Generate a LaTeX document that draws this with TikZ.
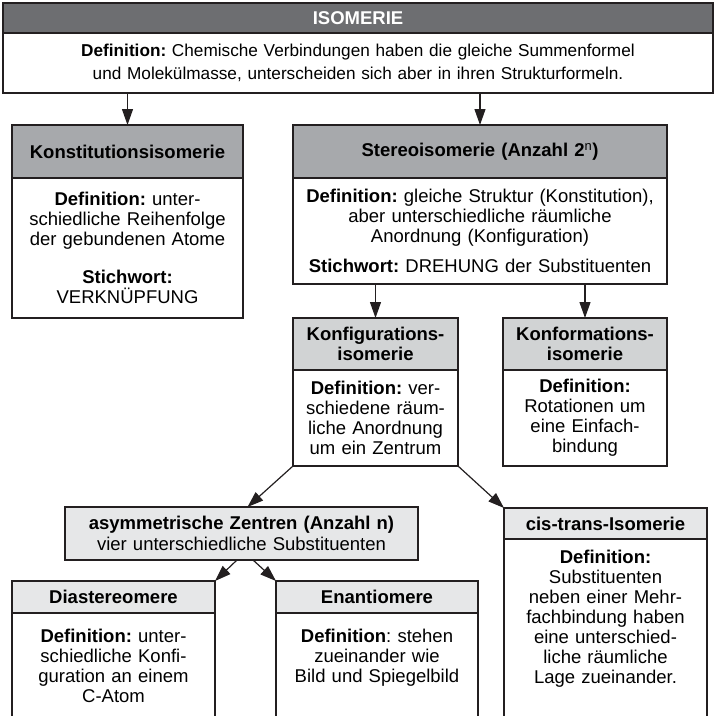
\documentclass[tikz,border=0pt]{standalone}
\usepackage{fontspec}
\setmainfont{Liberation Sans}
\usetikzlibrary{arrows.meta}
\frenchspacing
\definecolor{ink}{HTML}{231F20}
\definecolor{bardark}{HTML}{6D6E71}
\definecolor{barmid}{HTML}{A7A9AC}
\definecolor{barlight}{HTML}{D1D3D4}
\definecolor{barpale}{HTML}{E6E7E8}
\tikzset{
	box/.style={draw=ink, line width=1.2pt, inner sep=0pt, outer sep=0pt, align=center, font=\fontsize{18.5}{20}\selectfont},
	bar/.style={box, anchor=north west, font=\fontsize{18.5}{20}\selectfont\bfseries},
	body/.style={box, anchor=north, fill=white},
	arr/.style={draw=ink, line width=1.2pt, -{Triangle[length=16pt,width=11pt]}},
}
\begin{document}
\begin{tikzpicture}[x=1pt,y=-1pt]
			\useasboundingbox (0,0) rectangle (716,716);
			\clip (0,0) rectangle (716,716);
			\node	(isotitle) at (3,3) [bar, fill=bardark, text=white, text width=710pt, minimum height=30pt] {ISOMERIE};
			\node	(isodef) at (isotitle.south) [body, text width=710pt, minimum height=60pt, font=\fontsize{17.2}{22.5}\selectfont] {\textbf{Definition:} Chemische Verbindungen haben die gleiche Summenformel\\und Molekülmasse, unterscheiden sich aber in ihren Strukturformeln.};
			\node	(kontitle) at (12,125) [bar, fill=barmid, text width=231pt, minimum height=53pt] {Konstitutionsisomerie};
			\node	(konbody) at (kontitle.south) [body, text width=231pt, minimum height=140pt] {\textbf{Definition:} unter-\\schiedliche Reihenfolge\\der gebundenen Atome\\[18pt]\textbf{Stichwort:}\\VERKNÜPFUNG};
			\node	(stetitle) at (293,125) [bar, fill=barmid, text width=374pt, minimum height=53pt] {Stereoisomerie (Anzahl 2\textsuperscript{\mdseries n})};
			\node	(stebody) at (stetitle.south) [body, text width=374pt, minimum height=106pt] {\textbf{Definition:} gleiche Struktur (Konstitution),\\aber unterschiedliche räumliche\\Anordnung (Konfiguration)\\[10pt]\textbf{Stichwort:} DREHUNG der Substituenten};
			\node	(kfgtitle) at (293,318) [bar, fill=barlight, text width=165pt, minimum height=52pt] {Konfigurations-\\isomerie};
			\node	(kfgbody) at (kfgtitle.south) [body, text width=165pt, minimum height=96pt] {\textbf{Definition:} ver-\\schiedene räum-\\liche Anordnung\\um ein Zentrum};
			\node	(kfmtitle) at (503,318) [bar, fill=barlight, text width=164pt, minimum height=52pt] {Konformations-\\isomerie};
			\node	(kfmbody) at (kfmtitle.south) [body, text width=164pt, minimum height=96pt] {\textbf{Definition:}\\Rotationen um\\eine Einfach-\\bindung};
			\node	(asym) at (65,507) [box, anchor=north west, fill=barpale, text width=353pt, minimum height=53pt, font=\fontsize{18.5}{21}\selectfont] {\textbf{asymmetrische Zentren (Anzahl n)}\\vier unterschiedliche Substituenten};
			\node	(cistitle) at (504,508) [bar, fill=barpale, text width=203pt, minimum height=31pt] {cis-trans-Isomerie};
			\node	(cisbody) at (cistitle.south) [body, text width=203pt, inner ysep=11pt, text depth=190pt] {\textbf{Definition:}\\Substituenten\\neben einer Mehr-\\fachbindung haben\\eine unterschied-\\liche räumliche\\Lage zueinander.};
			\node	(diatitle) at (12,581) [bar, fill=barpale, text width=203pt, minimum height=32pt] {Diastereomere};
			\node	(diabody) at (diatitle.south) [body, text width=203pt, inner ysep=16pt, text depth=120pt] {\textbf{Definition:} unter-\\schiedliche Konfi-\\guration an einem\\C-Atom};
			\node	(enatitle) at (276,581) [bar, fill=barpale, text width=202pt, minimum height=32pt] {Enantiomere};
			\node	(enabody) at (enatitle.south) [body, text width=202pt, inner ysep=16pt, text depth=120pt] {\textbf{Definition}: stehen\\zueinander wie\\Bild und Spiegelbild};
			\draw
			(isodef.south -| kontitle.north) edge[arr] (kontitle.north)
			(isodef.south -| stetitle.north) edge[arr] (stetitle.north)
			(stebody.south -| kfgtitle.north) edge[arr] (kfgtitle.north)
			(stebody.south -| kfmtitle.north) edge[arr] (kfmtitle.north)
			(kfgbody.south west) edge[arr] ([xshift=6pt]asym.north)
			(kfgbody.south east) edge[arr] (cistitle.north west)
			([xshift=-4.5pt]asym.south) edge[arr] (diatitle.north east)
			([xshift=11.5pt]asym.south) edge[arr] (enatitle.north west)
			;
		\end{tikzpicture}
\end{document}
